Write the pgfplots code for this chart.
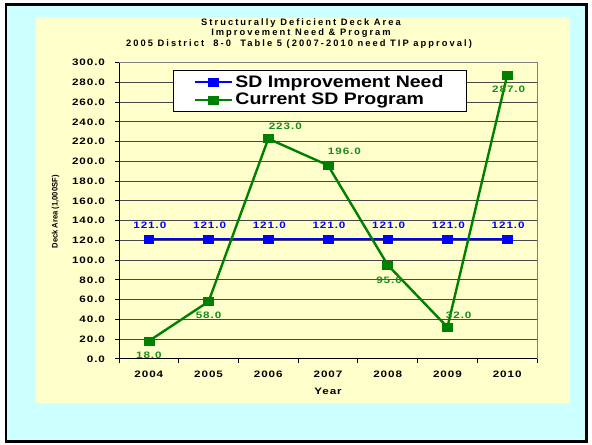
\documentclass[border=0pt]{standalone}
\usepackage{fontspec}
\usepackage{pgfplots}
\usepackage{pgfplotstable}
\pgfplotsset{compat=1.18}
\setmainfont{Liberation Sans}
\newfontfamily\widefont[FakeStretch=1.25,LetterSpace=10]{Liberation Sans}
\newfontfamily\titlefont[LetterSpace=22]{Liberation Sans}
\newfontfamily\legfont[FakeStretch=1.17]{Liberation Sans}
\newfontfamily\ylabfont[FakeStretch=0.95]{Liberation Sans}
\definecolor{bgcyan}{HTML}{CCFFFF}
\definecolor{panel}{HTML}{FFFFCC}
\definecolor{sdblue}{HTML}{0000FF}
\definecolor{sdgreen}{HTML}{008000}
\definecolor{labgreen}{HTML}{1A8A1A}
\pgfplotstableread{
x y dx dy
0 121 1 14.5
1 121 1 14.5
2 121 1 14.5
3 121 1 14.5
4 121 1 14.5
5 121 1 14.5
6 121 1 14.5
}\bluetab
\pgfplotstableread{
x y dx dy
0 18 0 -14.7
1 58 0 -14
2 223 17 12
3 196 16.4 13.7
4 95 1.3 -15
5 32 11.3 11.5
6 287 1.5 -13.7
}\greentab
\begin{document}
\begin{tikzpicture}
\fill[white] (0pt,0pt) rectangle (444pt,333.75pt);
\draw[fill=bgcyan, line width=2.2pt] (4.5pt,2.6pt) rectangle (439.9pt,330.4pt);
\fill[panel] (27pt,31.5pt) rectangle (427.5pt,321pt);
\node[font=\titlefont\bfseries\fontsize{7}{8}\selectfont] at (225.75pt,316.5pt) {Structurally Deficient Deck Area};
\node[font=\titlefont\bfseries\fontsize{7}{8}\selectfont] at (225.75pt,308.6pt) {Improvement Need \& Program};
\node[font=\titlefont\bfseries\fontsize{7}{8}\selectfont] at (224.25pt,300.75pt) {2005 District \ 8-0 \ Table 5 (2007-2010 need TIP approval)};
\begin{axis}[
  at={(89.25pt,64.65pt)}, anchor=south west,
  scale only axis, width=313.5pt, height=222.1pt,
  xmin=-0.5, xmax=6.5, ymin=0, ymax=300,
  clip=false,
  axis line style={draw=black!50, line width=0.6pt},
  xtick={0,...,6},
  xticklabels={2004,2005,2006,2007,2008,2009,2010},
  minor xtick={-0.5,0.5,...,6.5},
  major x tick style={draw=none},
  minor tick length=3pt,
  major tick length=3pt,
  tick align=outside,
  xtick pos=bottom, ytick pos=left,
  ytick={0,20,...,300},
  ymajorgrids,
  grid style={draw=black!72, line width=0.6pt},
  tick style={black, line width=0.6pt},
  /pgf/number format/assume math mode=true,
  y tick label style={/pgf/number format/fixed, /pgf/number format/fixed zerofill, /pgf/number format/precision=1},
  tick label style={font=\widefont\bfseries\fontsize{7}{8}\selectfont},
  yticklabel style={xshift=-4pt},
  xticklabel style={yshift=-2.5pt},
  xlabel={Year},
  xlabel style={font=\widefont\bfseries\fontsize{7}{8}\selectfont, at={(axis description cs:0.5,-0.109)}, anchor=center},
  ylabel={Deck Area (1,000SF)},
  ylabel style={font=\ylabfont\bfseries\fontsize{6}{7}\selectfont, at={(axis description cs:-0.152,0.496)}, anchor=center},
  legend style={at={(axis description cs:0.129,0.975)}, anchor=north west,
    draw=black, line width=0.6pt, fill=white,
    font=\legfont\bfseries\fontsize{12.5}{14}\selectfont,
    inner xsep=15pt, inner ysep=1.5pt, row sep=-1pt,
    nodes={inner sep=2pt}},
  legend cell align=left,
  legend image code/.code={%
    \draw[#1, mark repeat=2, mark phase=2] plot coordinates {(0pt,0pt) (13.9pt,0pt) (27.8pt,0pt)};},
  nodes near coords={\pgfmathprintnumber[fixed,fixed zerofill,precision=1]{\pgfplotspointmeta}},
  visualization depends on={\thisrow{dx} \as \myDX},
  visualization depends on={\thisrow{dy} \as \myDY},
  every node near coord/.append style={anchor=center, xshift={\myDX*0.75pt}, yshift={\myDY*0.75pt},
    font=\widefont\bfseries\fontsize{7}{8}\selectfont},
]
\addplot[sdblue, line width=1.5pt, mark=square*, mark size=2.8pt, mark options={xscale=1.3, fill=sdblue, draw=sdblue, line width=0.5pt},
  every node near coord/.append style={text=sdblue}]
  table[x=x, y=y, meta=y] {\bluetab};
\addlegendentry{SD Improvement Need}
\addplot[sdgreen, line width=1.8pt, mark=square*, mark size=3pt, mark options={xscale=1.25, fill=sdgreen, draw=sdgreen, line width=0.5pt},
  every node near coord/.append style={text=labgreen}]
  table[x=x, y=y, meta=y] {\greentab};
\addlegendentry{Current SD Program}
\draw[black, line width=0.7pt] (rel axis cs:0,1) -- (rel axis cs:0,0) -- (rel axis cs:1,0);
\end{axis}
\end{tikzpicture}
\end{document}
